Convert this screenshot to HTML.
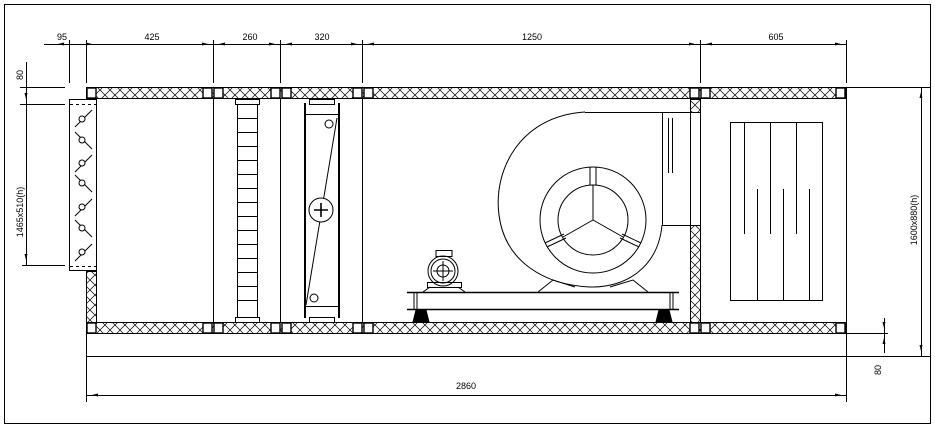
<!DOCTYPE html>
<html><head><meta charset="utf-8"><style>html,body{margin:0;padding:0;background:#fff}svg{display:block}text{font-family:"Liberation Sans",sans-serif;font-size:9px;fill:#000}</style></head><body>
<svg width="935" height="428" viewBox="0 0 935 428" xmlns="http://www.w3.org/2000/svg">
<defs>
<pattern id="h" width="10" height="10" patternUnits="userSpaceOnUse"><path d="M0,0L10,10M10,0L0,10" stroke="#000" stroke-width="0.7"/></pattern>
</defs>
<g fill="none" stroke="#000" stroke-width="1">
<rect x="4.5" y="4.5" width="926" height="419"/>
<rect x="86.5" y="87.5" width="759" height="11" fill="url(#h)"/>
<rect x="86.5" y="322.5" width="759" height="11" fill="url(#h)"/>
<g fill="#fff" stroke-width="1.4">
<rect x="87" y="88" width="9" height="10"/><rect x="203" y="88" width="9" height="10"/><rect x="214" y="88" width="9" height="10"/>
<rect x="271" y="88" width="9" height="10"/><rect x="282" y="88" width="9" height="10"/><rect x="353" y="88" width="9" height="10"/><rect x="364" y="88" width="9" height="10"/>
<rect x="690" y="88" width="9" height="10"/><rect x="701" y="88" width="9" height="10"/><rect x="836" y="88" width="9" height="10"/>
<rect x="87" y="323" width="9" height="10"/><rect x="203" y="323" width="9" height="10"/><rect x="214" y="323" width="9" height="10"/>
<rect x="271" y="323" width="9" height="10"/><rect x="282" y="323" width="9" height="10"/><rect x="353" y="323" width="9" height="10"/><rect x="364" y="323" width="9" height="10"/>
<rect x="690" y="323" width="9" height="10"/><rect x="701" y="323" width="9" height="10"/><rect x="836" y="323" width="9" height="10"/>
</g>
<rect x="86.5" y="271.5" width="10" height="51" fill="url(#h)"/>
<rect x="69.5" y="99.5" width="27" height="171"/>
<line x1="70" y1="104.5" x2="96" y2="104.5" stroke-dasharray="3,3"/>
<line x1="70" y1="266.5" x2="96" y2="266.5" stroke-dasharray="3,3"/>
<g>
<path d="M75,127L92,110"/><circle cx="82" cy="119" r="3" fill="#fff"/>
<path d="M75,132L92,149"/><circle cx="82" cy="140" r="3" fill="#fff"/>
<path d="M75,172L92,155"/><circle cx="82" cy="163" r="3" fill="#fff"/>
<path d="M75,175L92,192"/><circle cx="82" cy="183" r="3" fill="#fff"/>
<path d="M75,216L92,199"/><circle cx="82" cy="207" r="3" fill="#fff"/>
<path d="M75,220L92,237"/><circle cx="82" cy="228" r="3" fill="#fff"/>
<path d="M75,261L92,244"/><circle cx="82" cy="252" r="3" fill="#fff"/>
</g>
<line x1="96.5" y1="99" x2="96.5" y2="322"/>
<line x1="213.5" y1="99" x2="213.5" y2="322"/><line x1="280.5" y1="99" x2="280.5" y2="322"/>
<line x1="362.5" y1="99" x2="362.5" y2="322"/>
<line x1="700.5" y1="99" x2="700.5" y2="322"/><line x1="690.5" y1="99" x2="690.5" y2="322"/>
<rect x="690.5" y="99.5" width="10" height="13" fill="url(#h)"/>
<rect x="690.5" y="225.5" width="10" height="97" fill="url(#h)"/>
<rect x="235.5" y="99.5" width="24" height="5"/><rect x="235.5" y="317.5" width="24" height="5"/>
<rect x="237.5" y="104.5" width="20" height="213"/>
<path d="M237,118.5h20M237,132.5h20M237,146.5h20M237,160.5h20M237,174.5h20M237,188.5h20M237,202.5h20M237,216.5h20M237,230.5h20M237,244.5h20M237,258.5h20M237,272.5h20M237,286.5h20M237,300.5h20"/>
<rect x="309.5" y="99.5" width="25" height="5"/><rect x="309.5" y="317.5" width="25" height="5"/>
<path d="M305,103V318M339,103V318" stroke-width="2"/>
<path d="M305,114.5h34M305,306.5h34"/>
<path d="M337,118L306,305"/>
<circle cx="321" cy="210" r="12" fill="#fff"/><path d="M314,210h14M321,203v14" stroke-width="1.6"/>
<circle cx="329" cy="124" r="4"/><circle cx="314" cy="298" r="4"/>
<path d="M585,112 C520,116 493,170 499,215 C505,262 545,285 590,287 C625,288 658,268 662,225"/>
<path d="M585,112.5H690M662.5,112V225M662,225.5H690M668.5,118v55M672.5,118v55"/>
<circle cx="593" cy="220" r="53"/><circle cx="593" cy="220" r="35"/>
<path d="M593,220V185M593,220L563,237M593,220L623,237"/>
<path d="M590,167v18M596,167v18M545,243l19,-9M547,247l19,-9M641,243l-19,-9M639,247l-19,-9"/>
<path d="M538,292L553,280L575,287M610,287L633,280L648,292"/>
<path d="M407,292.5H679M407,309.5H679" stroke-width="1.6"/>
<path d="M414,293v16M417,293v16M670,293v16M673,293v16"/>
<path d="M416,310L413,322H429L426,310Z M659,310L656,322H672L669,310Z" fill="#000"/>
<rect x="436" y="250.5" width="16" height="6"/>
<circle cx="443" cy="271" r="15"/><circle cx="443" cy="271" r="12"/><circle cx="443" cy="271" r="6"/>
<path d="M433,271h20M443,261v20"/>
<rect x="427.5" y="282.5" width="34" height="5"/>
<path d="M423,292L430,287M465,292L458,287"/>
<rect x="730.5" y="122.5" width="92" height="178"/>
<path d="M744.5,122V234M770.5,122V234M796.5,122V234M757.5,189V300M783.5,189V300M809.5,189V300"/>
<line x1="86.5" y1="333" x2="86.5" y2="402"/>
<line x1="86" y1="356.5" x2="930" y2="356.5"/>
<line x1="846.5" y1="87" x2="846.5" y2="402"/>
<line x1="44" y1="44.5" x2="846" y2="44.5"/>
<path d="M69.5,40V83M86.5,40V83M213.5,40V83M280.5,40V83M362.5,40V83M700.5,40V83M846.5,40V83"/>
<path d="M20,87.5H65M20,104.5H65M22,265.5H65M26.5,62V265"/>
<path d="M846,87.5H930M921.5,87V356M846,333.5H888M884.5,318V353"/>
<line x1="86" y1="395.5" x2="846" y2="395.5"/>
</g>
<g fill="#000">
<path d="M58,44l6,-1.5v3z M92,44l-6,-1.5v3z M208,44l-6,-1.5v3z M219,44l6,-1.5v3z M275,44l-6,-1.5v3z M286,44l6,-1.5v3z M357,44l-6,-1.5v3z M368,44l6,-1.5v3z M695,44l-6,-1.5v3z M706,44l6,-1.5v3z M841,44l-6,-1.5v3z"/>
<path d="M92,395l6,-1.5v3z M841,395l-6,-1.5v3z"/>
<path d="M921,92l-1.5,6h3z M921,351l-1.5,-6h3z M884,328l-1.5,-6h3z M884,338l-1.5,6h3z M26,99l-1.5,-6h3z M26,260l-1.5,-6h3z"/>
</g>
<text x="62" y="40" text-anchor="middle">95</text>
<text x="152" y="40" text-anchor="middle">425</text>
<text x="250" y="40" text-anchor="middle">260</text>
<text x="322" y="40" text-anchor="middle">320</text>
<text x="532" y="40" text-anchor="middle">1250</text>
<text x="776" y="40" text-anchor="middle">605</text>
<text x="466" y="389" text-anchor="middle">2860</text>
<text transform="translate(23,75) rotate(-90)" text-anchor="middle">80</text>
<text transform="translate(23,212) rotate(-90)" text-anchor="middle">1465x510(h)</text>
<text transform="translate(917,220) rotate(-90)" text-anchor="middle">1600x880(h)</text>
<text transform="translate(881,370) rotate(-90)" text-anchor="middle">80</text>
</svg>
</body></html>
